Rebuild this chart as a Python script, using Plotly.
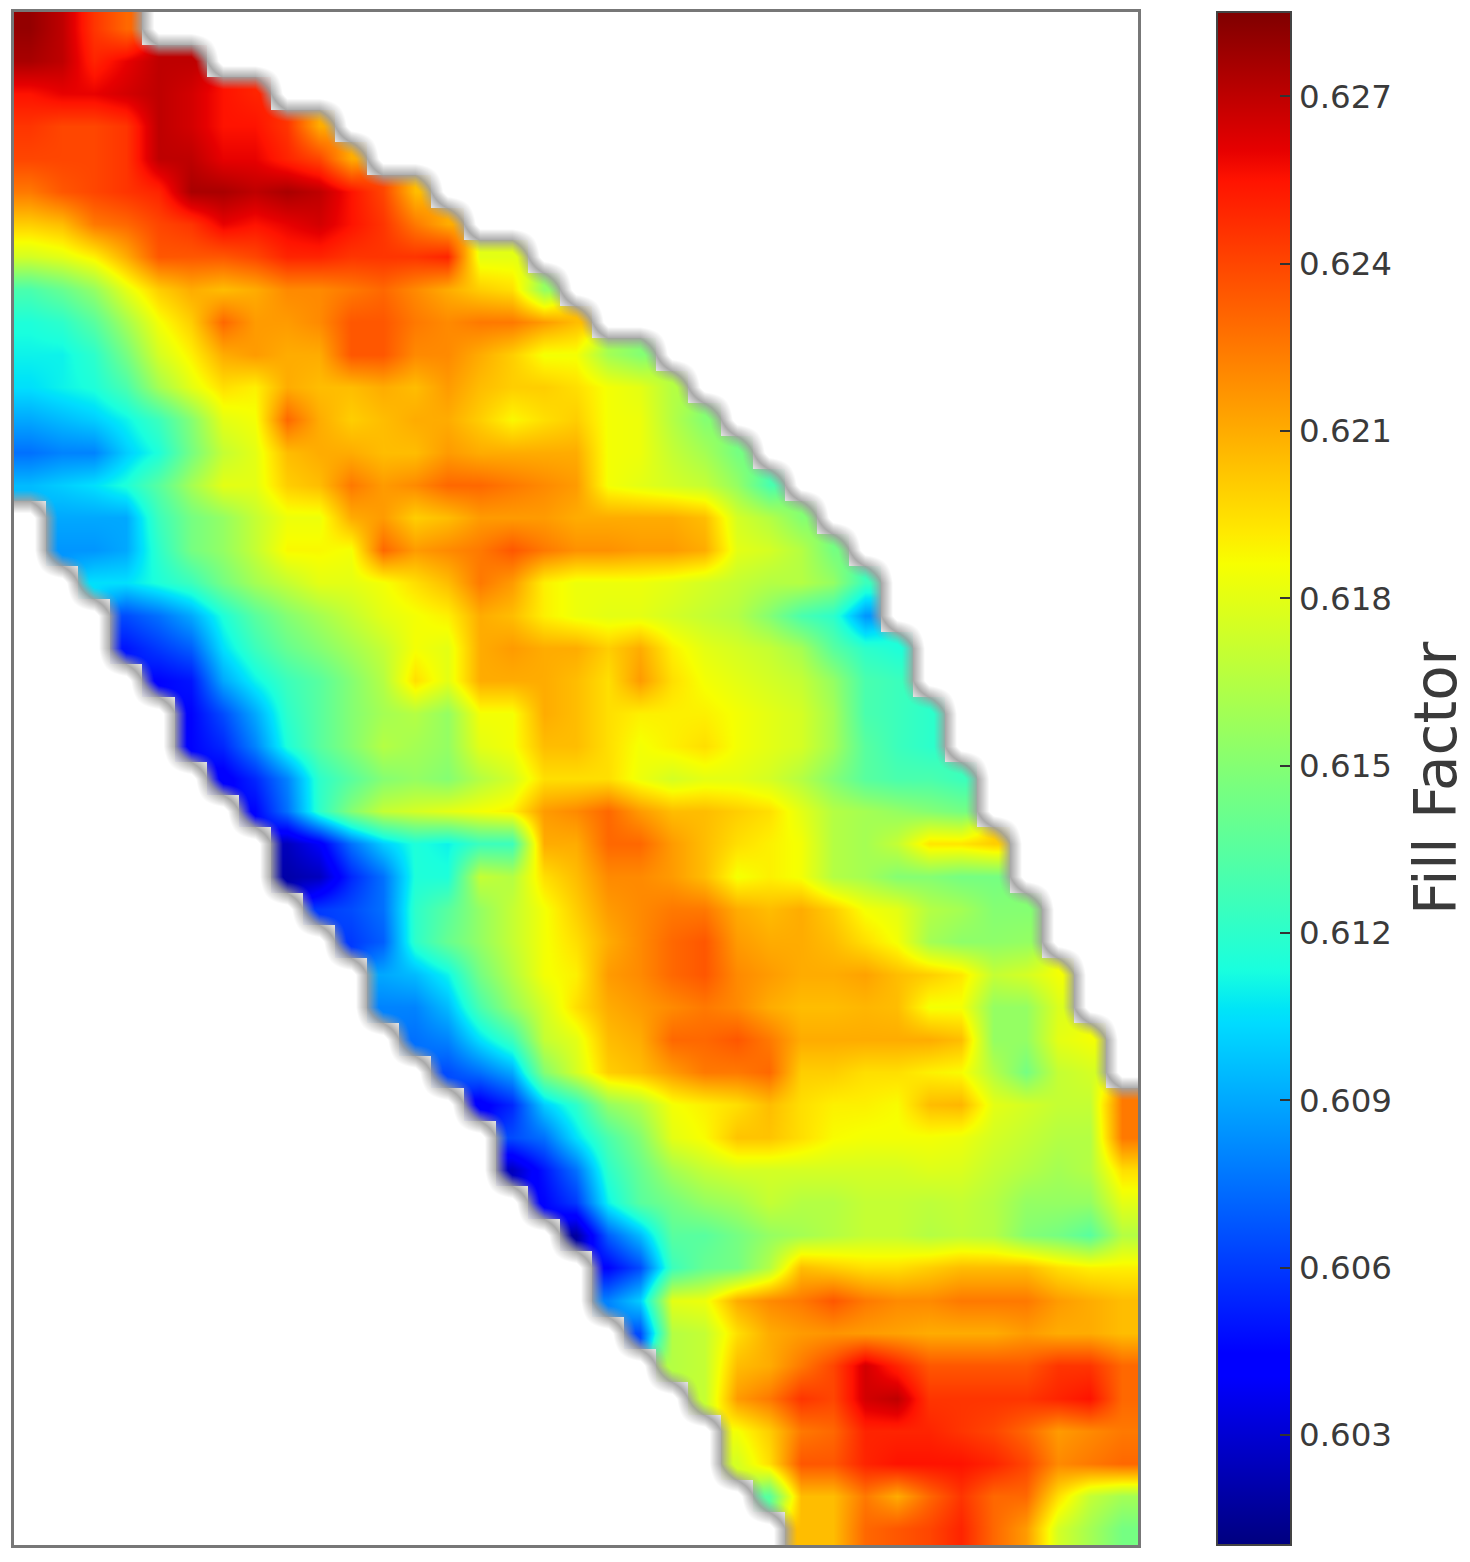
import plotly.graph_objects as go

_ = None
# Fill factor, in units of 0.001; one list per grid row.
r00 = [628,627,624.5,623]
r01 = [627.5,627,625,626,627,627]
r02 = [625.5,626,626,626.5,627,626.5,625.5,625]
r03 = [624.5,624,624,624.5,627,626.5,625.5,625.5,624.5,621]
r04 = [624,624,624,624.5,627,627,626,626,625,624,621]
r05 = [622.5,623.5,624,624.5,625,627.5,627.5,627,627.5,627,625.5,624,620.5]
r06 = [620,620.5,622.5,623,624,624.5,626,625.5,626,626.5,625.5,624.5,622.5,621]
r07 = [617.5,618,619,621,623.5,623.5,623.5,624,625,625,624.5,624.5,624.5,625,618,618]
r08 = [613,614,615.5,618,620,621,620.5,621,622,622,622.5,623,622,621,620,619.5,615.5]
r09 = [611.5,612,613.5,616,618.5,620,623,621.5,621.5,622,623.5,623.5,622.5,622,622.5,622.5,621.5,620.5]
r10 = [611,611,612,614.5,617.5,619,621,621.5,621,621,623.5,623.5,622,622,621,620,618.5,618.5,616,615]
r11 = [610.5,611,611.5,613,616,618,619.5,619,621,620.5,620.5,621,620.5,621.5,620.5,620,620,619.5,618.5,618,616.5]
r12 = [609,609.5,610,611,612.5,615,618,618.5,623,621,620,620.5,621,621,620,618.8,619.5,620,618.5,618.3,616.5,615]
r13 = [607.5,608,608,610,611.5,614.5,617,618,620.5,621,621,620.5,620.5,621.5,621,621,621,621,618.5,618.3,617,616,614.5]
r14 = [609.5,610,610.5,611.5,613.5,616,618,618,620,620.5,622.5,621.5,622,623,623,622.5,622,621.5,618.5,618,617.5,617,615.5,613]
r15 = [_,609,609,609,612.5,614.5,615.5,617,618.3,618.3,621,621.5,620,620.5,621.5,621.5,621.5,621,621,621,621,620.5,617.5,616.5,615]
r16 = [_,608.5,608.5,609,612,614.5,615.5,617,618.8,618.8,618.5,623,621.5,622,622.5,623.5,622.5,621.8,621.8,621.5,621.5,621,618,617.5,616.5,614.5]
r17 = [_,_,610.5,610.5,611.5,612.5,614.5,616,617,618,618,618.5,619.5,620.5,622.5,621.5,619,618.3,618.3,618.3,618,617.5,617,616.5,616.5,615.5,612.5]
r18 = [_,_,_,606.5,607.5,609,611.5,613.5,615,616,617,618,618.5,619,621,620.5,619,618.3,618,618,617.5,617,616.5,615,613,612,608.5]
r19 = [_,_,_,605,606,607,610.5,612.5,614,615,616,617,618.5,618,621,621.5,621,621,620,621,619,618,617.5,617,616,613.5,612,611.5]
r20 = [_,_,_,_,604.5,605,609,611,612.5,613.5,615,616.5,619.5,618,621,621,621,620.5,619.5,621.5,619.5,618.5,618,617.5,617,615.5,613,612.5]
r21 = [_,_,_,_,_,604.5,606.5,609,612,613.5,615,616,616.5,615.5,618.5,618.5,621,620.5,619.5,619,619,619,618.5,618,617.5,616,613,612.5,612]
r22 = [_,_,_,_,_,604.5,605.5,608,611.5,613.5,615,616.5,616,615.5,618,618.5,620.5,620.5,619.5,618.5,619,619.5,618.5,618,617.5,616,613.5,612.5,612]
r23 = [_,_,_,_,_,_,604,605.5,608,612,613.5,615,615.5,615,616.5,617.5,619.5,619.5,619.5,618.3,617.5,618,618,617.5,616.5,615,613.5,613,613,612.5]
r24 = [_,_,_,_,_,_,_,604.5,607.5,612,615,617,617.5,618,618.5,619,621.5,622,623,621.5,620.5,620.5,620,619.5,618,616.5,616,615.5,615,614.5]
r25 = [_,_,_,_,_,_,_,_,602.5,604,607.5,610,611.5,611,612.5,612.5,621,621,623,623,621.5,620.5,619.5,619,618.5,616.5,616,617,619.3,619.3,620]
r26 = [_,_,_,_,_,_,_,_,602,602.5,605.5,607.5,611.5,611.5,617,616.5,619.5,620.5,622,622,621.5,620.5,618.5,619,618.5,616.5,616,615,615,614.5,614.5]
r27 = [_,_,_,_,_,_,_,_,_,606,606.5,607.5,612,613.5,615.5,617,618.5,620,621.5,622,622.5,622.5,621,620.5,621,620,618.5,618,616.5,616,615,615]
r28 = [_,_,_,_,_,_,_,_,_,_,606,607,612,614,615.5,617,618.5,619.5,621,622,623,623.5,621.5,621,621,620.5,619.5,618.5,616,615.3,615.3,615.5]
r29 = [_,_,_,_,_,_,_,_,_,_,_,609,609.5,611,614.5,616.5,618.5,619,621.5,622,623,623.5,622,621.5,621,621,621.3,620.5,620,619.3,617,617.5,618.5]
r30 = [_,_,_,_,_,_,_,_,_,_,_,608,608,609.5,613,615.5,617.5,619.5,621,621.5,622,622.5,622,621,620.5,620.5,620.7,620.5,618.5,618.5,615.5,615.5,617.7]
r31 = [_,_,_,_,_,_,_,_,_,_,_,_,607.5,608,610.5,612.5,617,618,620.5,621,623,623,623.5,622.5,621,621,621,621,621,620.5,615.5,615.5,618,618.5]
r32 = [_,_,_,_,_,_,_,_,_,_,_,_,_,606.5,607.5,609,615,617.5,620,620.5,621.5,622.5,622.5,623,620,620,619.5,619.5,619,618.7,616.5,614.5,617,617.5]
r33 = [_,_,_,_,_,_,_,_,_,_,_,_,_,_,604,605.5,610,612,615.5,616.5,618.5,619,619.5,620.5,619.5,619,619,618.7,620.5,620.7,618,617.5,617,617,622.5]
r34 = [_,_,_,_,_,_,_,_,_,_,_,_,_,_,_,606.5,607.5,610.5,613,615,618,618.7,620.3,620.3,619.5,618.7,618.5,618.5,618.5,618.3,617.5,617,616.5,616.5,622.5]
r35 = [_,_,_,_,_,_,_,_,_,_,_,_,_,_,_,602.5,605,607.5,612,614,616,617,617.5,617.5,617.5,617.5,617.5,617.5,617.8,617.7,617,616.5,616,616.5,619.5]
r36 = [_,_,_,_,_,_,_,_,_,_,_,_,_,_,_,_,604.5,606,611,613.5,614.5,615.5,616,617,616.5,616.5,617,617,616.8,617,616.5,615.5,615.5,615.5,618]
r37 = [_,_,_,_,_,_,_,_,_,_,_,_,_,_,_,_,_,601.8,607,609.5,613.5,613.5,614.5,615.5,616,616.5,617,617,616.5,616.8,616.5,615,614.5,613.5,616.5]
r38 = [_,_,_,_,_,_,_,_,_,_,_,_,_,_,_,_,_,_,604.5,606.5,612.5,614,614.5,616.5,620.5,620,619.5,619.5,620,620.5,620.5,620.5,619.5,619,619]
r39 = [_,_,_,_,_,_,_,_,_,_,_,_,_,_,_,_,_,_,608,610,618,618.3,621,622,622.5,623.5,622.5,622,622,622.5,622.5,622.5,621.5,621,620.5]
r40 = [_,_,_,_,_,_,_,_,_,_,_,_,_,_,_,_,_,_,_,606.5,616.5,617,619.5,621,621.5,621.7,621.5,621.3,621,621,621,621.5,621,621,620.5]
r41 = [_,_,_,_,_,_,_,_,_,_,_,_,_,_,_,_,_,_,_,_,616.5,617,620.5,621,622.5,624,626.5,625,623.5,623.5,623.5,623.5,624.5,624.5,623]
r42 = [_,_,_,_,_,_,_,_,_,_,_,_,_,_,_,_,_,_,_,_,_,617,621.5,622.5,624.5,624,626.5,627,624.5,624.5,624.5,624.5,625,625.5,623]
r43 = [_,_,_,_,_,_,_,_,_,_,_,_,_,_,_,_,_,_,_,_,_,_,618.5,620,622.5,623,625,625,625,624.5,624,623,621.5,622,622.5]
r44 = [_,_,_,_,_,_,_,_,_,_,_,_,_,_,_,_,_,_,_,_,_,_,617.5,619.5,623.5,623.5,625,625.5,625.5,625.5,625,624,622,622.5,623]
r45 = [_,_,_,_,_,_,_,_,_,_,_,_,_,_,_,_,_,_,_,_,_,_,_,613.5,620.5,620.5,622.5,621,623,624.5,623,623,619.5,617,616]
r46 = [_,_,_,_,_,_,_,_,_,_,_,_,_,_,_,_,_,_,_,_,_,_,_,_,620.5,620.5,623,623.5,624,625,623,621.5,617.5,616,614.5]

rows = [r00,r01,r02,r03,r04,r05,r06,r07,r08,r09,r10,r11,r12,r13,r14,r15,r16,r17,r18,r19,r20,r21,r22,r23,
        r24,r25,r26,r27,r28,r29,r30,r31,r32,r33,r34,r35,r36,r37,r38,r39,r40,r41,r42,r43,r44,r45,r46]
tick_values = [0.603,0.606,0.609,0.612,0.615,0.618,0.621,0.624,0.627]
tick_labels = ["0.603","0.606","0.609","0.612","0.615","0.618","0.621","0.624","0.627"]
n_cols = 35
z = [[(v/1000 if v is not None else None) for v in r] + [None]*(n_cols-len(r)) for r in rows]
# 1 where a cell holds data, 0 where it is empty: drives the soft grey fringe along the mask edge.
mask = [[0 if v is None else 1 for v in r] for r in z]

jet = [[0,'#00007f'],[0.11,'#0000ff'],[0.125,'#0000ff'],[0.34,'#00dbff'],[0.35,'#00e5f7'],[0.375,'#19ffde'],
       [0.5,'#7dff7a'],[0.64,'#f7ff00'],[0.66,'#ffea00'],[0.89,'#ff1300'],[0.91,'#e60000'],[1,'#7f0000']]
fringe = [[0,'rgba(255,255,255,1)'],[0.14,'rgba(255,255,255,1)'],[0.5,'rgba(160,160,160,0.9)'],
          [0.86,'rgba(160,160,160,0)'],[1,'rgba(160,160,160,0)']]
OFF = 8            # the page's own margin
W,H = 1470-OFF,1562-OFF
L,R,T,B = 14-OFF,1138-OFF,12-OFF,1545-OFF
TXT = '#3a3a3a'
fig = go.Figure()
fig.add_trace(go.Heatmap(z=z, zsmooth='best', colorscale=jet, zmin=0.60103, zmax=0.62851, hoverongaps=False,
    colorbar=dict(x=(1217-OFF)/W, xanchor='left', xpad=0, y=1-T/H, yanchor='top', ypad=0, len=(B-T), lenmode='pixels',
                  thickness=74, thicknessmode='pixels', outlinecolor='#444', outlinewidth=2,
                  tickmode='array', tickvals=tick_values, ticktext=tick_labels, ticks='inside', ticklen=12, tickcolor='#333', tickwidth=2,
                  tickfont=dict(family='DejaVu Sans', size=32.5, color=TXT))))
fig.add_trace(go.Heatmap(z=mask, zsmooth='best', colorscale=fringe, zmin=0, zmax=1, showscale=False, hoverinfo='skip'))
fig.add_annotation(text='Fill Factor', textangle=-90, xref='paper', yref='paper', x=(1436-OFF)/W, y=1-(778-OFF)/H,
                   xanchor='center', yanchor='middle', showarrow=False,
                   font=dict(family='DejaVu Sans', size=58, color=TXT))
fig.update_layout(width=W, height=H, margin=dict(l=0,r=0,t=0,b=0), paper_bgcolor='white', plot_bgcolor='white',
    xaxis=dict(domain=[L/W,R/W], range=[-0.5,34.5], showticklabels=False, ticks='', showgrid=False, zeroline=False, showline=True, mirror=True, linecolor='#777', linewidth=2.5),
    yaxis=dict(domain=[1-B/H,1-T/H], range=[46.5,-0.5], showticklabels=False, ticks='', showgrid=False, zeroline=False, showline=True, mirror=True, linecolor='#777', linewidth=2.5))
fig.write_html("out.html")
